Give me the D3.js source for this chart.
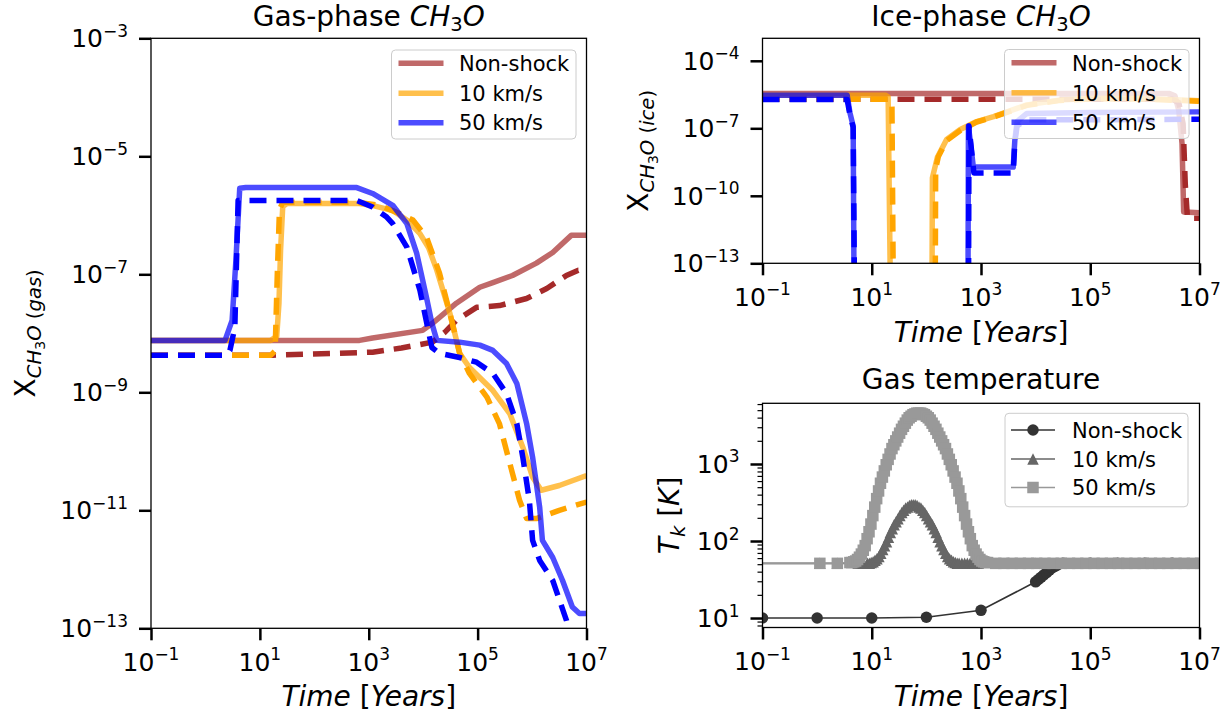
<!DOCTYPE html>
<html><head><meta charset="utf-8">
<script src="https://cdn.jsdelivr.net/npm/d3@7"></script>
<style>body{margin:0;background:#fff}svg{font-family:"DejaVu Sans",sans-serif}</style>
</head><body>
<svg id="c" width="1225" height="719"></svg>
<script>
// ---------------- data (log10 values) ----------------
const timeTicks = [1e-1, 1e1, 1e3, 1e5, 1e7];
const abundTicksGas = [1e-13, 1e-11, 1e-9, 1e-7, 1e-5, 1e-3];
const abundTicksIce = [1e-13, 1e-10, 1e-7, 1e-4];
const tempTicks = [1e1, 1e2, 1e3];
const seriesNames = ["Non-shock", "10 km/s", "50 km/s"];

// Gas-phase CH3O  (log10 years, log10 abundance)
const gasNS_solid_t = [-1, 2.83, 3.07, 3.99, 4.17, 4.61, 5.04, 5.28, 5.64, 6.08, 6.38, 6.72, 7.0];
const gasNS_solid_x = [-8.12, -8.12, -8.08, -7.95, -7.83, -7.49, -7.22, -7.14, -7.02, -6.81, -6.63, -6.34, -6.34];
const gasNS_dash_t = [-1, 1.24, 3.07, 3.6, 4.17, 4.40, 4.61, 4.98, 5.40, 5.90, 6.27, 6.63, 6.85, 7.0];
const gasNS_dash_x = [-8.37, -8.37, -8.32, -8.25, -8.15, -7.98, -7.78, -7.56, -7.53, -7.41, -7.24, -7.02, -6.93, -6.93];
const gas10_solid_t = [-1, 1.20, 1.31, 1.35, 1.38, 1.42, 1.50, 2.83, 3.10, 3.44, 3.70, 3.94, 4.10, 4.25, 4.49, 4.67, 4.85, 5.28, 5.59, 5.83, 6.01, 6.17, 6.50, 7.0];
const gas10_solid_x = [-8.12, -8.12, -8.05, -7.5, -6.6, -5.85, -5.80, -5.80, -5.84, -5.92, -6.08, -6.31, -6.55, -6.93, -7.66, -8.34, -8.58, -8.97, -9.36, -9.93, -10.44, -10.66, -10.58, -10.41];
const gas10_dash_t = [-1, 1.20, 1.28, 1.32, 1.36, 1.42, 2.78, 3.20, 3.51, 3.81, 4.06, 4.30, 4.49, 4.67, 4.85, 5.17, 5.40, 5.59, 5.77, 5.90, 6.08, 6.50, 7.0];
const gas10_dash_x = [-8.37, -8.37, -8.30, -7.0, -5.9, -5.78, -5.78, -5.83, -5.95, -6.08, -6.37, -6.98, -7.66, -8.34, -8.68, -9.08, -9.53, -10.20, -10.83, -11.14, -11.14, -11.00, -10.86];
const gas50_solid_t = [-1, 0.36, 0.49, 0.56, 0.63, 0.74, 2.78, 3.07, 3.44, 3.70, 3.88, 4.06, 4.16, 4.25, 4.67, 5.04, 5.28, 5.53, 5.72, 5.90, 6.01, 6.14, 6.19, 6.38, 6.56, 6.74, 6.87, 7.0];
const gas50_solid_x = [-8.12, -8.12, -7.78, -6.76, -5.54, -5.53, -5.53, -5.63, -5.83, -6.14, -6.64, -7.39, -7.83, -8.12, -8.15, -8.20, -8.29, -8.51, -8.85, -9.53, -10.10, -10.95, -11.51, -11.80, -12.19, -12.64, -12.75, -12.75];
const gas50_dash_t = [-1, 0.38, 0.45, 0.54, 0.60, 2.78, 3.07, 3.33, 3.44, 3.70, 3.94, 4.12, 4.16, 4.30, 4.67, 4.98, 5.28, 5.53, 5.72, 5.83, 5.95, 6.01, 6.14, 6.38, 6.63, 6.78];
const gas50_dash_x = [-8.37, -8.37, -8.29, -7.90, -5.75, -5.75, -5.86, -6.03, -6.14, -6.54, -7.27, -8.07, -8.24, -8.34, -8.41, -8.49, -8.68, -9.02, -9.53, -10.10, -10.83, -11.51, -11.85, -12.19, -12.86, -13.37];

// Ice-phase CH3O
const iceNS_solid_t = [-1, 6.45, 6.55, 6.62, 6.68, 6.71, 7.0];
const iceNS_solid_x = [-5.45, -5.45, -5.55, -6.2, -7.66, -10.72, -10.75];
const iceNS_dash_t = [-1, 6.5, 6.62, 6.70, 6.74, 6.78, 7.0];
const iceNS_dash_x = [-5.71, -5.71, -5.85, -6.8, -9.5, -11.0, -11.0];
const ice10_solid_t = [-1, 1.25, 1.30, 1.35, 2.10, 2.11, 2.20, 2.37, 2.62, 2.92, 3.23, 3.84, 4.45, 5.05, 6.0, 7.0];
const ice10_solid_x = [-5.53, -5.53, -5.6, -16, -16, -9.2, -8.3, -7.5, -7.05, -6.7, -6.48, -5.96, -5.74, -5.66, -5.68, -5.78];
const ice10_dash_t = [-1, 1.33, 1.37, 1.40, 2.16, 2.17, 2.22, 2.37, 2.62, 2.92, 3.23, 3.84, 4.45, 5.05, 6.0, 7.0];
const ice10_dash_x = [-5.71, -5.71, -6.0, -16, -16, -8.8, -8.25, -7.55, -7.1, -6.72, -6.5, -5.98, -5.76, -5.69, -5.7, -5.8];
const ice50_solid_t = [-1, 0.55, 0.60, 0.66, 0.68, 2.76, 2.77, 2.80, 2.86, 3.59, 3.62, 3.66, 3.84, 5.0, 7.0];
const ice50_solid_x = [-5.53, -5.53, -6.3, -6.9, -16, -16, -6.9, -7.5, -8.72, -8.72, -7.5, -6.7, -6.34, -6.3, -6.27];
const ice50_dash_t = [-1, 0.55, 0.60, 0.66, 0.69, 2.77, 2.78, 2.81, 2.87, 3.59, 3.62, 3.66, 3.84, 5.0, 7.0];
const ice50_dash_x = [-5.72, -5.72, -6.4, -6.95, -16, -16, -6.9, -7.6, -8.99, -8.99, -7.6, -6.9, -6.62, -6.62, -6.6];

// Gas temperature (log10 years, log10 K)
const tempNS_t = [-1, 0, 1, 2, 3, 4.00, 4.05, 4.10, 4.15, 4.20, 4.25, 4.30, 4.35, 4.40, 4.50, 5.0, 5.5, 6.0, 6.5, 7.02];
const tempNS_k = [1.0, 1.0, 1.0, 1.01, 1.10, 1.47, 1.50, 1.53, 1.56, 1.59, 1.62, 1.65, 1.67, 1.69, 1.71, 1.71, 1.71, 1.71, 1.71, 1.71];
const temp10_t = [-1.3, 0.05, 0.37, 0.75, 0.80, 0.85,
  0.920, 0.955, 0.990, 1.025, 1.060, 1.095, 1.130, 1.165, 1.200, 1.235, 1.270, 1.305, 1.340, 1.375, 1.410, 1.445, 1.480,
  1.515, 1.550, 1.585, 1.620, 1.655, 1.690, 1.725, 1.760, 1.795, 1.830, 1.865, 1.900, 1.935, 1.970, 2.005, 2.040, 2.075,
  2.110, 2.145, 2.180, 2.215, 2.250, 2.285, 2.320, 2.355, 2.390, 2.425, 2.460, 2.495, 2.530, 2.565, 2.600,
  2.65, 2.70, 2.75, 2.80, 2.85, 2.90, 2.95, 3.5, 4.0, 4.5, 5.0, 5.5, 6.0, 6.5, 7.02];
const temp10_k = [1.71, 1.71, 1.71, 1.71, 1.71, 1.71,
  1.71, 1.71, 1.72, 1.73, 1.75, 1.77, 1.80, 1.84, 1.89, 1.94, 1.99, 2.05, 2.11, 2.16, 2.21, 2.25, 2.29,
  2.33, 2.37, 2.40, 2.43, 2.44, 2.46, 2.47, 2.47, 2.47, 2.46, 2.44, 2.43, 2.40, 2.37, 2.33, 2.29, 2.25,
  2.21, 2.16, 2.11, 2.05, 1.99, 1.94, 1.89, 1.84, 1.80, 1.77, 1.75, 1.73, 1.72, 1.71, 1.71,
  1.71, 1.71, 1.71, 1.71, 1.71, 1.71, 1.71, 1.71, 1.71, 1.71, 1.71, 1.71, 1.71, 1.71, 1.71];
const temp50_t = [-1.3, 0.05, 0.37,
  0.600, 0.635, 0.670, 0.705, 0.740, 0.775, 0.810, 0.845, 0.880, 0.915, 0.950, 0.985, 1.020, 1.055, 1.090, 1.125,
  1.160, 1.195, 1.230, 1.265, 1.300, 1.335, 1.370, 1.405, 1.440, 1.475, 1.510, 1.545, 1.580, 1.615, 1.650, 1.685,
  1.720, 1.755, 1.790, 1.825, 1.860, 1.895, 1.930, 1.965, 2.000, 2.035, 2.070, 2.105, 2.140, 2.175, 2.210, 2.245,
  2.280, 2.315, 2.350, 2.385, 2.420, 2.455, 2.490, 2.525, 2.560, 2.595, 2.630, 2.665, 2.700, 2.735, 2.770, 2.805,
  2.840, 2.875, 2.910, 2.945, 2.980, 3.015, 3.050, 3.085, 3.120,
  3.27, 3.42, 3.57, 3.72, 3.87, 4.02, 4.17, 4.32, 4.47, 4.62, 4.77, 4.92, 5.07, 5.22, 5.37, 5.52, 5.67, 5.82, 5.97,
  6.12, 6.27, 6.42, 6.57, 6.72, 6.87, 7.02];
const temp50_k = [1.71, 1.71, 1.71,
  1.72, 1.72, 1.73, 1.74, 1.76, 1.79, 1.83, 1.88, 1.94, 2.03, 2.12, 2.22, 2.33, 2.44, 2.55, 2.65,
  2.75, 2.83, 2.91, 2.99, 3.06, 3.13, 3.20, 3.25, 3.30, 3.35, 3.40, 3.45, 3.49, 3.53, 3.57, 3.60,
  3.62, 3.64, 3.65, 3.66, 3.66, 3.66, 3.65, 3.64, 3.62, 3.60, 3.57, 3.53, 3.49, 3.45, 3.40, 3.35,
  3.30, 3.25, 3.20, 3.13, 3.06, 2.99, 2.91, 2.83, 2.75, 2.65, 2.55, 2.44, 2.33, 2.22, 2.12, 2.03,
  1.94, 1.88, 1.83, 1.79, 1.76, 1.74, 1.73, 1.72, 1.72,
  1.71, 1.71, 1.71, 1.71, 1.71, 1.71, 1.71, 1.71, 1.71, 1.71, 1.71, 1.71, 1.71, 1.71, 1.71, 1.71, 1.71, 1.71, 1.71,
  1.71, 1.71, 1.71, 1.71, 1.71, 1.71, 1.71];

// ---------------- drawing ----------------
const svg = d3.select("#c");
const pw = v => Math.pow(10, v);
const pairs = (t, v) => t.map((d, i) => [pw(d), pw(v[i])]);
const MINUS = "\u2212";

const colNS = "#a52a2a", col10 = "#ffa500", col50 = "#0000ff";
const grayNS = "#333333", gray10 = "#666666", gray50 = "#999999";

function powLabel(text, e, supSize) {
  text.append("tspan").text("10");
  text.append("tspan").attr("font-size", supSize).attr("dy", -10.5).text(e < 0 ? MINUS + (-e) : String(e));
}

function makePanel(id, x0, x1, y0, y1, ydom) {
  const x = d3.scaleLog().domain([1e-1, 1e7]).range([x0, x1]);
  const y = d3.scaleLog().domain(ydom).range([y1, y0]);
  svg.append("clipPath").attr("id", "clip-" + id).append("rect")
    .attr("x", x0).attr("y", y0).attr("width", x1 - x0).attr("height", y1 - y0);
  const g = svg.append("g");
  const plot = g.append("g").attr("clip-path", `url(#clip-${id})`);
  return {id, x, y, x0, x1, y0, y1, g, plot};
}

function axes(P, yTicks, minor) {
  const xa = P.g.append("g").attr("transform", `translate(0,${P.y1})`)
    .call(d3.axisBottom(P.x).tickValues(timeTicks).tickSize(12).tickFormat(() => ""));
  xa.select(".domain").remove();
  xa.selectAll(".tick line").attr("stroke", "#000").attr("stroke-width", 2.5);
  timeTicks.forEach(v => {
    const t = P.g.append("text").attr("x", P.x(v)).attr("y", P.y1 + 42.5)
      .attr("text-anchor", "middle").attr("font-size", 25).attr("fill", "#000");
    powLabel(t, Math.round(Math.log10(v)), 17);
  });
  const ya = P.g.append("g").attr("transform", `translate(${P.x0},0)`)
    .call(d3.axisLeft(P.y).tickValues(yTicks).tickSize(12).tickFormat(() => ""));
  ya.select(".domain").remove();
  ya.selectAll(".tick line").attr("stroke", "#000").attr("stroke-width", 2.5);
  if (minor) {
    const ym = P.g.append("g").attr("transform", `translate(${P.x0},0)`)
      .call(d3.axisLeft(P.y).tickValues(minor).tickSize(5).tickFormat(() => ""));
    ym.select(".domain").remove();
    ym.selectAll(".tick line").attr("stroke", "#000").attr("stroke-width", 1.2);
  }
  yTicks.forEach(v => {
    const t = P.g.append("text").attr("x", P.x0 - 23).attr("y", P.y(v) + 9)
      .attr("text-anchor", "end").attr("font-size", 25).attr("fill", "#000");
    powLabel(t, Math.round(Math.log10(v)), 17);
  });
}

function frame(P) {
  P.g.append("rect").attr("x", P.x0).attr("y", P.y0).attr("width", P.x1 - P.x0).attr("height", P.y1 - P.y0)
    .attr("fill", "none").attr("stroke", "#000").attr("stroke-width", 1.3);
}

function timeLabel(P, yb) {
  const t = P.g.append("text").attr("x", (P.x0 + P.x1) / 2).attr("y", yb).attr("text-anchor", "middle")
    .attr("font-size", 28).attr("fill", "#000");
  t.append("tspan").attr("font-style", "italic").text("Time ");
  t.append("tspan").text("[");
  t.append("tspan").attr("font-style", "italic").text("Years");
  t.append("tspan").text("]");
}

function title(P, yb, plain, chem) {
  const t = P.g.append("text").attr("x", (P.x0 + P.x1) / 2).attr("y", yb).attr("text-anchor", "middle")
    .attr("font-size", 28).attr("fill", "#000");
  t.append("tspan").text(plain);
  if (chem) {
    t.append("tspan").attr("font-style", "italic").text("CH");
    t.append("tspan").attr("font-size", 19.6).attr("dy", 5).text("3");
    t.append("tspan").attr("font-style", "italic").attr("dy", -5).text("O");
  }
}

function abundLabel(P, xb, phase) {
  const yc = (P.y0 + P.y1) / 2;
  const t = P.g.append("text").attr("transform", `translate(${xb},${yc}) rotate(-90)`)
    .attr("text-anchor", "middle").attr("font-size", 28).attr("fill", "#000");
  t.append("tspan").text("X");
  t.append("tspan").attr("font-size", 19.6).attr("font-style", "italic").attr("dy", 6).text("CH");
  t.append("tspan").attr("font-size", 14).attr("dy", 4).text("3");
  t.append("tspan").attr("font-size", 19.6).attr("font-style", "italic").attr("dy", -4).text("O");
  t.append("tspan").attr("font-size", 19.6).text(" (");
  t.append("tspan").attr("font-size", 19.6).attr("font-style", "italic").text(phase);
  t.append("tspan").attr("font-size", 19.6).text(")");
}

function drawLine(P, data, color, opacity, dashed) {
  const line = d3.line().x(d => P.x(d[0])).y(d => P.y(d[1]));
  P.plot.append("path").attr("d", line(data)).attr("fill", "none")
    .attr("stroke", color).attr("stroke-opacity", opacity).attr("stroke-width", 5.5)
    .attr("stroke-dasharray", dashed ? "17,10" : null).attr("stroke-linejoin", "round");
}

function legendBox(x, y, w, h) {
  return svg.append("rect").attr("x", x).attr("y", y).attr("width", w).attr("height", h).attr("rx", 4)
    .attr("fill", "#fff").attr("fill-opacity", 0.8).attr("stroke", "#cccccc").attr("stroke-width", 1);
}

function lineLegend(x, y) {
  legendBox(x, y, 184.5, 89);
  const cols = [colNS, col10, col50];
  [13.3, 43.3, 72.7].forEach((dy, i) => {
    svg.append("line").attr("x1", x + 7).attr("x2", x + 52).attr("y1", y + dy).attr("y2", y + dy)
      .attr("stroke", cols[i]).attr("stroke-opacity", 0.7).attr("stroke-width", 5.5);
    svg.append("text").attr("x", x + 67.5).attr("y", y + dy + 7.7).attr("font-size", 21).attr("fill", "#000")
      .text(seriesNames[i]);
  });
}

const triPath = s => `M0,${-s / 2}L${s / 2},${s / 2}L${-s / 2},${s / 2}Z`;
function marker(sel, kind, color, s) {
  if (kind === "o") return sel.append("circle").attr("r", s / 2).attr("fill", color);
  if (kind === "s") return sel.append("rect").attr("x", -s / 2).attr("y", -s / 2).attr("width", s).attr("height", s).attr("fill", color);
  return sel.append("path").attr("d", triPath(s)).attr("fill", color);
}

// ---- Panel 1: gas phase ----
const G = makePanel("gas", 151, 586.5, 38.3, 628.3, [1e-13, 1e-3]);
drawLine(G, pairs(gasNS_solid_t, gasNS_solid_x), colNS, 0.7, false);
drawLine(G, pairs(gasNS_dash_t, gasNS_dash_x), colNS, 1, true);
drawLine(G, pairs(gas10_solid_t, gas10_solid_x), col10, 0.7, false);
drawLine(G, pairs(gas10_dash_t, gas10_dash_x), col10, 1, true);
drawLine(G, pairs(gas50_solid_t, gas50_solid_x), col50, 0.7, false);
drawLine(G, pairs(gas50_dash_t, gas50_dash_x), col50, 1, true);
axes(G, abundTicksGas, null);
frame(G);
timeLabel(G, 706);
title(G, 26, "Gas-phase ", true);
abundLabel(G, 35, "gas");
lineLegend(391.5, 50);

// ---- Panel 2: ice phase ----
const I = makePanel("ice", 762.5, 1199.5, 38.3, 263.3, [1e-13, 1e-3]);
drawLine(I, pairs(iceNS_solid_t, iceNS_solid_x), colNS, 0.7, false);
drawLine(I, pairs(iceNS_dash_t, iceNS_dash_x), colNS, 1, true);
drawLine(I, pairs(ice10_solid_t, ice10_solid_x), col10, 0.7, false);
drawLine(I, pairs(ice10_dash_t, ice10_dash_x), col10, 1, true);
drawLine(I, pairs(ice50_solid_t, ice50_solid_x), col50, 0.7, false);
drawLine(I, pairs(ice50_dash_t, ice50_dash_x), col50, 1, true);
axes(I, abundTicksIce, null);
frame(I);
timeLabel(I, 342);
title(I, 26, "Ice-phase ", true);
abundLabel(I, 648, "ice");
lineLegend(1004.5, 49.5);

// ---- Panel 3: temperature ----
const T = makePanel("temp", 762.5, 1199.5, 403.3, 627.5, [pw(0.877), pw(3.788)]);
const tempSeries = [
  [pairs(tempNS_t, tempNS_k), grayNS, "o"],
  [pairs(temp10_t, temp10_k), gray10, "^"],
  [pairs(temp50_t, temp50_k), gray50, "s"]
];
tempSeries.forEach(([data, color, kind]) => {
  const line = d3.line().x(d => T.x(d[0])).y(d => T.y(d[1]));
  T.plot.append("path").attr("d", line(data)).attr("fill", "none").attr("stroke", color).attr("stroke-width", 1.6);
  const mg = T.plot.append("g");
  data.forEach(d => {
    const m = mg.append("g").attr("transform", `translate(${T.x(d[0])},${T.y(d[1])})`);
    marker(m, kind, color, 11.5);
  });
});
const minorT = [];
[1, 10, 100, 1000].forEach(b => [2, 3, 4, 5, 6, 7, 8, 9].forEach(m => {
  const v = b * m; if (v > pw(0.877) && v < pw(3.788)) minorT.push(v);
}));
axes(T, tempTicks, minorT);
frame(T);
timeLabel(T, 706);
title(T, 389, "Gas temperature", false);
{
  const t = T.g.append("text").attr("transform", `translate(679,${(T.y0 + T.y1) / 2}) rotate(-90)`)
    .attr("text-anchor", "middle").attr("font-size", 28).attr("fill", "#000");
  t.append("tspan").attr("font-style", "italic").text("T");
  t.append("tspan").attr("font-style", "italic").attr("font-size", 19.6).attr("dy", 6).text("k");
  t.append("tspan").attr("dy", -6).text(" [");
  t.append("tspan").attr("font-style", "italic").text("K");
  t.append("tspan").text("]");
}
{
  const lx = 1005, ly = 413.3;
  legendBox(lx, ly, 183, 93.5);
  const cols = [grayNS, gray10, gray50], kinds = ["o", "^", "s"];
  [16.7, 45.7, 74.2].forEach((dy, i) => {
    svg.append("line").attr("x1", lx + 6).attr("x2", lx + 50).attr("y1", ly + dy).attr("y2", ly + dy)
      .attr("stroke", cols[i]).attr("stroke-width", 1.6);
    const m = svg.append("g").attr("transform", `translate(${lx + 28},${ly + dy})`);
    marker(m, kinds[i], cols[i], 11.5);
    svg.append("text").attr("x", lx + 67).attr("y", ly + dy + 7.7).attr("font-size", 21).attr("fill", "#000")
      .text(seriesNames[i]);
  });
}
</script>
</body></html>
